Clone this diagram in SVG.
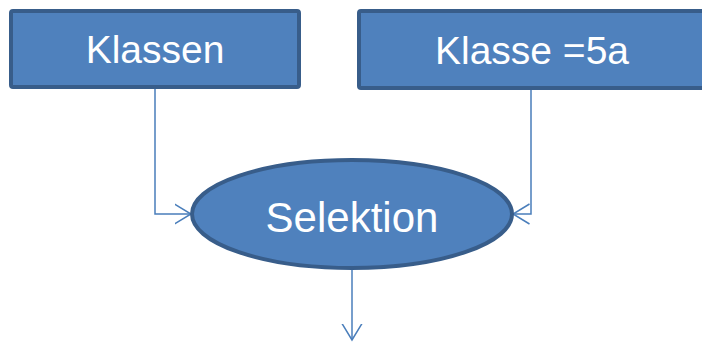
<svg xmlns="http://www.w3.org/2000/svg" width="702" height="342" viewBox="0 0 702 342">
<style>
.box{fill:#4f81bd;stroke:#385d8a;stroke-width:4}
.lbl{font-family:"Liberation Sans",Arial,sans-serif;font-size:39px;fill:#ffffff;text-anchor:middle}
.con{fill:none;stroke:#4a7ebb;stroke-width:1.5}
</style>
<defs>
<marker id="arr" markerWidth="18" markerHeight="24" refX="16.5" refY="11" orient="auto" markerUnits="userSpaceOnUse">
<path d="M0,1 L16.5,11 L0,21" fill="none" stroke="#4a7ebb" stroke-width="1.5"/>
</marker>
</defs>
<rect width="702" height="342" fill="#ffffff"/>
<g id="connectors">
<path class="con" d="M155,88 V214 H191" marker-end="url(#arr)"/>
<path class="con" d="M531,89 V214 H513" marker-end="url(#arr)"/>
<path class="con" d="M352,269 V340" marker-end="url(#arr)"/>
</g>
<g id="klassen">
<rect class="box" x="11" y="11" width="288" height="76" rx="2"/>
<text class="lbl" x="155" y="63">Klassen</text>
</g>
<g id="klasse5a">
<rect class="box" x="359" y="11" width="350" height="77" rx="2"/>
<text class="lbl" x="532" y="64">Klasse =5a</text>
</g>
<g id="selektion">
<ellipse class="box" cx="352" cy="214" rx="160" ry="54"/>
<text class="lbl" x="352" y="232" style="font-size:42px">Selektion</text>
</g>
</svg>
